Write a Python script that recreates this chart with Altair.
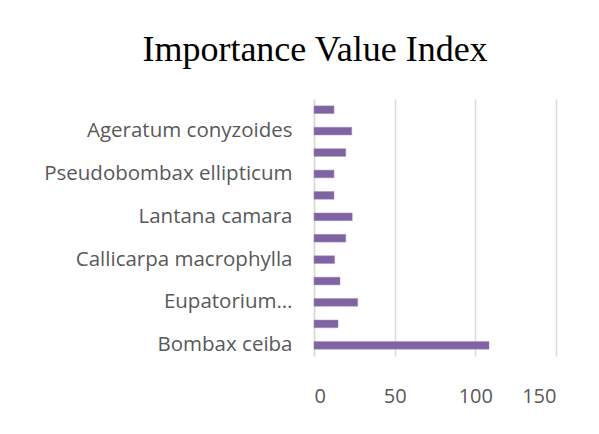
import altair as alt
import pandas as pd
import json

# bottom to top as drawn
categories = [
    "Bombax ceiba", "Species 2", "Eupatorium…", "Species 4",
    "Callicarpa macrophylla", "Species 6", "Lantana camara", "Species 8",
    "Pseudobombax ellipticum", "Species 10", "Ageratum conyzoides", "Species 12",
]
values = [108.5, 14.9, 27.1, 16.1, 12.8, 19.7, 23.7, 12.4, 12.4, 19.7, 23.4, 12.4]
shown_labels = ["Bombax ceiba", "Eupatorium…", "Callicarpa macrophylla",
                "Lantana camara", "Pseudobombax ellipticum", "Ageratum conyzoides"]
x_ticks = [0, 50, 100, 150]

df = pd.DataFrame({"species": categories, "ivi": values})
order = list(reversed(categories))

label_expr = f"indexof({json.dumps(shown_labels)}, datum.label) >= 0 ? datum.label : ''"

chart = alt.Chart(df).mark_bar(color="#8064a2", stroke="#a08cc0", strokeWidth=0.5).encode(
    x=alt.X("ivi:Q", scale=alt.Scale(domain=[0, 150], nice=False),
            axis=alt.Axis(values=x_ticks, title=None, domain=False, ticks=False,
                          grid=True, gridColor="#d9d9d9", gridWidth=1.5,
                          labelPadding=30, labelFontSize=20, labelColor="#595959",
                          labelFont="Open Sans")),
    y=alt.Y("species:N", sort=order,
            scale=alt.Scale(paddingInner=0.64, paddingOuter=0.32),
            axis=alt.Axis(title=None, ticks=False, domain=True, domainColor="#d9d9d9",
                          domainWidth=1.5, labelExpr=label_expr, labelPadding=22,
                          labelFontSize=20.5, labelColor="#595959", labelFont="Open Sans",
                          labelLimit=400)),
).properties(
    width=242, height=257,
    autosize=alt.AutoSizeParams(type="none"),
    padding={"left": 306, "top": 91, "right": 20, "bottom": 70},
    title=alt.TitleParams("Importance Value Index", font="Liberation Serif", fontSize=36,
                          fontWeight="normal", color="#000000", anchor="middle",
                          dx=-120, offset=30),
).configure(background="white", view=alt.ViewConfig(stroke=None))

chart.save("out.html", embed_options={"renderer": "svg", "actions": False})
